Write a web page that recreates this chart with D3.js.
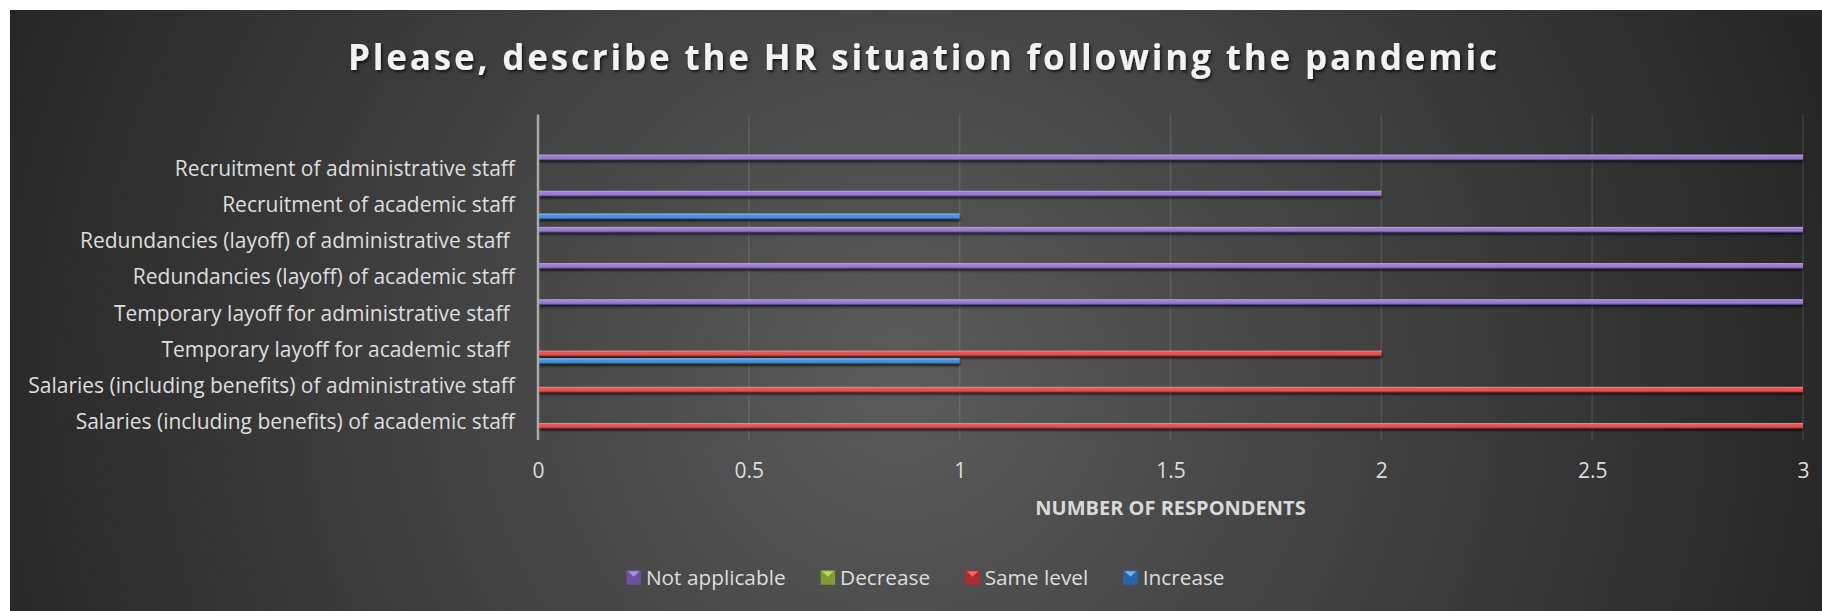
<!DOCTYPE html>
<html><head><meta charset="utf-8">
<script src="https://cdn.jsdelivr.net/npm/d3@7"></script>
<style>
body{margin:0;background:#fff;}
svg{display:block;}
text{font-family:"Open Sans",sans-serif;}
</style>
</head><body>
<svg id="chart" width="1822" height="611"></svg>
<script>
// ---- data ----
const chartTitle = "Please, describe the HR situation following the pandemic";
const categories = [
  "Recruitment of administrative staff",
  "Recruitment of academic staff",
  "Redundancies (layoff) of administrative staff ",
  "Redundancies (layoff) of academic staff",
  "Temporary layoff for administrative staff ",
  "Temporary layoff for academic staff ",
  "Salaries (including benefits) of administrative staff",
  "Salaries (including benefits) of academic staff"
];
const seriesNames = ["Not applicable", "Decrease", "Same level", "Increase"];
const notApplicable = [3, 2, 3, 3, 3, 0, 0, 0];
const decrease      = [0, 0, 0, 0, 0, 0, 0, 0];
const sameLevel     = [0, 0, 0, 0, 0, 2, 3, 3];
const increase      = [0, 1, 0, 0, 0, 1, 0, 0];
const xTickValues = [0, 0.5, 1, 1.5, 2, 2.5, 3];
const xAxisTitle = "NUMBER OF RESPONDENTS";

const seriesValues = [notApplicable, decrease, sameLevel, increase];
const seriesColors = [
  {light:"#c2a6ee", main:"#9a7bd0", dark:"#5b428c", mk:"#6d519c", mkLight:"#ad90dc"},
  {light:"#cde87e", main:"#9bbb59", dark:"#5d7828", mk:"#7f9c33", mkLight:"#bcd96a"},
  {light:"#ff8c8c", main:"#e8504f", dark:"#9a2828", mk:"#b02c2c", mkLight:"#ee6a6a"},
  {light:"#8ec6ff", main:"#4b90e0", dark:"#22569a", mk:"#2b63a8", mkLight:"#74aef0"}
];

// ---- layout ----
const W = 1822, H = 611;
const plot = {left: 538, right: 1803, top: 114.5, bottom: 440};
const svg = d3.select("#chart");
const defs = svg.append("defs");

const bg = defs.append("radialGradient").attr("id","bg")
  .attr("gradientUnits","userSpaceOnUse").attr("cx",900).attr("cy",380).attr("r",960);
bg.append("stop").attr("offset","0").attr("stop-color","#5b5b5b");
bg.append("stop").attr("offset","1").attr("stop-color","#262626");

seriesColors.forEach((c,i)=>{
  const g = defs.append("linearGradient").attr("id","bar"+i)
    .attr("x1",0).attr("y1",0).attr("x2",0).attr("y2",1);
  g.append("stop").attr("offset","0").attr("stop-color",c.light);
  g.append("stop").attr("offset","0.35").attr("stop-color",c.main);
  g.append("stop").attr("offset","0.7").attr("stop-color",c.main);
  g.append("stop").attr("offset","1").attr("stop-color",c.dark);
});
const sh = defs.append("filter").attr("id","barShadow").attr("x","-5%").attr("y","-100%").attr("width","110%").attr("height","400%");
sh.append("feDropShadow").attr("dx",0.5).attr("dy",2.2).attr("stdDeviation",1.1)
  .attr("flood-color","#000").attr("flood-opacity",0.65);
const tsh = defs.append("filter").attr("id","titleShadow").attr("x","-5%").attr("y","-30%").attr("width","110%").attr("height","160%");
tsh.append("feDropShadow").attr("dx",1.5).attr("dy",2).attr("stdDeviation",1.4)
  .attr("flood-color","#000").attr("flood-opacity",0.7);

svg.append("rect").attr("x",10).attr("y",10).attr("width",W-10).attr("height",H-10)
  .attr("fill","url(#bg)");

// title
svg.append("text").attr("x",922.5).attr("y",70).attr("text-anchor","middle")
  .attr("font-size",35).attr("font-weight",700).attr("fill","#f2f2f2")
  .attr("textLength",1149).attr("lengthAdjust","spacing")
  .attr("filter","url(#titleShadow)").text(chartTitle);

// scales
const x = d3.scaleLinear().domain([0,3]).range([plot.left, plot.right]);
const bandDomain = [""].concat(categories);
const y = d3.scaleBand().domain(bandDomain).range([plot.top, plot.bottom]).padding(0);
const ys = d3.scaleBand().domain(seriesNames).range([0, y.bandwidth()]).paddingInner(0).paddingOuter(0.375);

// gridlines
svg.append("g").selectAll("line").data(xTickValues.filter(d=>d>0)).join("line")
  .attr("x1",d=>x(d)).attr("x2",d=>x(d)).attr("y1",plot.top).attr("y2",plot.bottom)
  .attr("stroke","rgba(255,255,255,0.11)").attr("stroke-width",1.5);

// bars
const barH = 5.5;
seriesNames.forEach((s,si)=>{
  svg.append("g").attr("filter","url(#barShadow)").selectAll("rect")
    .data(categories.map((c,ci)=>({c, v: seriesValues[si][ci]})).filter(d=>d.v>0))
    .join("rect")
    .attr("x", x(0)).attr("width", d=>x(d.v)-x(0))
    .attr("y", d=>y(d.c)+ys(s)+ys.bandwidth()/2-barH/2).attr("height", barH)
    .attr("fill","url(#bar"+si+")");
});

// vertical axis line
svg.append("line").attr("x1",x(0)).attr("x2",x(0)).attr("y1",plot.top).attr("y2",plot.bottom)
  .attr("stroke","#a9a9a9").attr("stroke-width",2.5);

// category labels
svg.append("g").selectAll("text").data(categories).join("text")
  .attr("x",515).attr("y",d=>y(d)+y.bandwidth()/2).attr("dy","0.34em")
  .attr("text-anchor","end").attr("font-size",21).attr("fill","#dedede")
  .style("white-space","pre").text(d=>d);

// x axis
const xAxis = d3.axisBottom(x).tickValues(xTickValues).tickSize(0).tickPadding(23)
  .tickFormat(d=>String(d));
const gx = svg.append("g").attr("transform",`translate(0,${plot.bottom})`).call(xAxis);
gx.select(".domain").remove();
gx.selectAll("text").attr("font-size",21).attr("fill","#dedede")
  .attr("font-family","'Open Sans',sans-serif");

svg.append("text").attr("x",(plot.left+plot.right)/2).attr("y",515).attr("text-anchor","middle")
  .attr("font-size",20).attr("font-weight",700).attr("fill","#d9d9d9").text(xAxisTitle);

// legend
const legY = 577.5, mk = 14.5, mkGap = 5, itemGap = 35;
const leg = svg.append("g");
const items = leg.selectAll("g").data(seriesNames).join("g");
items.append("text").attr("font-size",20.8).attr("fill","#dedede")
  .attr("y",legY).attr("dy","0.36em").text(d=>d);
const widths = [];
items.select("text").each(function(){ widths.push(this.getComputedTextLength()); });
const total = d3.sum(widths) + seriesNames.length*(mk+mkGap) + (seriesNames.length-1)*itemGap;
let cx = 925.5 - total/2;
items.each(function(d,i){
  const g = d3.select(this);
  const c = seriesColors[i];
  g.insert("rect","text").attr("x",cx).attr("y",legY-mk/2).attr("width",mk).attr("height",mk).attr("fill",c.mk);
  g.insert("polygon","text").attr("points",[[cx+1.5,legY-mk/2+1],[cx+mk-1.5,legY-mk/2+1],[cx+mk/2,legY-mk/2+6.5]].map(p=>p.join(",")).join(" "))
    .attr("fill",c.mkLight);
  g.select("text").attr("x",cx+mk+mkGap);
  cx += mk + mkGap + widths[i] + itemGap;
});
</script>
</body></html>
